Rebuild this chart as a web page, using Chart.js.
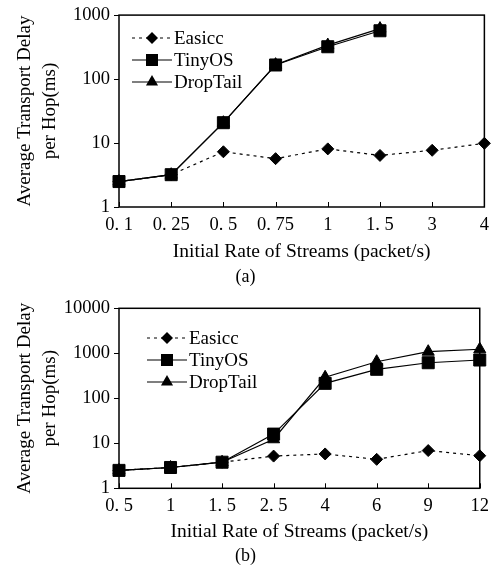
<!DOCTYPE html>
<html>
<head>
<meta charset="utf-8">
<script src="https://cdn.jsdelivr.net/npm/chart.js@4/dist/chart.umd.min.js"></script>
<style>
  body { margin: 0; background: #fff; }
  canvas { display: block; }
</style>
</head>
<body>
<canvas id="chartA" width="496" height="290"></canvas>
<canvas id="chartB" width="496" height="282"></canvas>
<script>
const seriesNames = ["Easicc", "TinyOS", "DropTail"];

const rateLabelsA = ["0. 1", "0. 25", "0. 5", "0. 75", "1", "1. 5", "3", "4"];
const easiccA = [2.5, 3.2, 7.3, 5.7, 8.1, 6.4, 7.7, 9.9];
const tinyosA = [2.5, 3.2, 20.8, 166, 320, 569, null, null];
const droptailA = [2.5, 3.2, 20.8, 168, 340, 615, null, null];
const yTicksA = [1, 10, 100, 1000];

const rateLabelsB = ["0. 5", "1", "1. 5", "2. 5", "4", "6", "9", "12"];
const easiccB = [2.5, 2.9, 3.8, 5.2, 5.8, 4.4, 6.9, 5.3];
const tinyosB = [2.5, 2.9, 3.8, 16, 215, 441, 617, 710];
const droptailB = [2.5, 2.9, 3.8, 12.3, 293, 650, 1086, 1230];
const yTicksB = [1, 10, 100, 1000, 10000];

const serif = "'Liberation Serif', 'Times New Roman', serif";
Chart.defaults.color = "#000";
Chart.defaults.font.family = serif;

// frame around the plot and small inward ticks on the x axis
const framePlugin = {
    id: "frame",
    beforeDatasetsDraw(chart) {
        const { ctx, chartArea: a } = chart;
        const x = chart.scales.x;
        ctx.save();
        ctx.strokeStyle = "#000";
        ctx.lineWidth = 1.5;
        ctx.strokeRect(a.left, a.top, a.right - a.left, a.bottom - a.top);
        ctx.lineWidth = 1;
        x.ticks.forEach((t, i) => {
            const px = Math.round(x.getPixelForTick(i)) + 0.5;
            ctx.beginPath();
            ctx.moveTo(px, a.bottom);
            ctx.lineTo(px, a.bottom - 5);
            ctx.stroke();
        });
        ctx.restore();
    },
};

function drawMarker(ctx, style, x, y) {
    ctx.beginPath();
    if (style === "rectRot") {
        const r = 6;
        ctx.moveTo(x, y - r); ctx.lineTo(x + r, y); ctx.lineTo(x, y + r); ctx.lineTo(x - r, y);
    } else if (style === "rect") {
        ctx.rect(x - 6, y - 6, 12, 12);
    } else {
        const r = 7;
        ctx.moveTo(x, y - r);
        ctx.lineTo(x + r * 0.866, y + r / 2);
        ctx.lineTo(x - r * 0.866, y + r / 2);
    }
    ctx.closePath();
    ctx.fill();
}

const legendPlugin = {
    id: "boxLegend",
    afterDraw(chart, args, opts) {
        const ctx = chart.ctx;
        ctx.save();
        ctx.fillStyle = "#000";
        ctx.strokeStyle = "#000";
        ctx.font = "19px " + serif;
        ctx.textBaseline = "middle";
        chart.data.datasets.forEach((ds, i) => {
            const y = opts.y + i * 22;
            ctx.lineWidth = 1.2;
            ctx.setLineDash(ds.borderDash || []);
            ctx.beginPath();
            ctx.moveTo(opts.x, y);
            ctx.lineTo(opts.x + 40, y);
            ctx.stroke();
            ctx.setLineDash([]);
            drawMarker(ctx, ds.pointStyle, opts.x + 20, y);
            ctx.fillText(ds.label, opts.x + 42, y + 1);
        });
        ctx.restore();
    },
};

function makeChart(id, labels, easicc, tinyos, droptail, yTicks, caption, sizes) {
    const ctx = document.getElementById(id).getContext("2d");
    const common = {
        borderColor: "#000",
        backgroundColor: "#000",
        borderWidth: 1.2,
        pointBorderWidth: 1,
        tension: 0,
        fill: false,
    };
    return new Chart(ctx, {
        type: "line",
        data: {
            labels: labels,
            datasets: [
                Object.assign({}, common, {
                    label: seriesNames[0],
                    data: easicc,
                    borderDash: [3, 4],
                    pointStyle: "rectRot",
                    pointRadius: 6,
                    order: 3,
                }),
                Object.assign({}, common, {
                    label: seriesNames[1],
                    data: tinyos,
                    pointStyle: "rect",
                    pointRadius: 8.5,
                    order: 1,
                }),
                Object.assign({}, common, {
                    label: seriesNames[2],
                    data: droptail,
                    pointStyle: "triangle",
                    pointRadius: 7,
                    order: 2,
                }),
            ],
        },
        options: {
            responsive: false,
            animation: false,
            layout: {
                padding: { top: sizes.top, right: sizes.right, bottom: sizes.bottom, left: 0 },
            },
            plugins: {
                legend: { display: false },
                tooltip: { enabled: false },
                title: {
                    display: true,
                    position: "bottom",
                    text: caption,
                    font: { size: 18, weight: "normal", lineHeight: 1.2 },
                    padding: 0,
                },
                boxLegend: { x: sizes.legendX, y: sizes.legendY },
            },
            scales: {
                x: {
                    offset: false,
                    grid: { display: false, drawTicks: false },
                    border: { display: false },
                    ticks: { font: { size: 18.5 }, padding: 7, maxRotation: 0, autoSkip: false },
                    title: {
                        display: true,
                        text: "Initial Rate of Streams (packet/s)",
                        font: { size: 19.5, lineHeight: 1.2 },
                        padding: { top: 0, bottom: sizes.xTitlePad },
                    },
                    afterFit: (s) => { s.height = sizes.xHeight; },
                },
                y: {
                    type: "logarithmic",
                    min: yTicks[0],
                    max: yTicks[yTicks.length - 1],
                    grid: { drawOnChartArea: false, drawTicks: true, tickLength: 5, color: "#000" },
                    border: { display: false },
                    ticks: { font: { size: 18.5 }, padding: 4, callback: (v) => String(v) },
                    afterBuildTicks: (s) => { s.ticks = yTicks.map((v) => ({ value: v })); },
                    title: {
                        display: true,
                        text: ["Average Transport Delay", "per Hop(ms)"],
                        font: { size: 19, lineHeight: 1.316 },
                        padding: { top: 12.5, bottom: 0 },
                    },
                    afterFit: (s) => { s.width = 119; },
                },
            },
        },
        plugins: [framePlugin, legendPlugin],
    });
}

makeChart("chartA", rateLabelsA, easiccA, tinyosA, droptailA, yTicksA, "(a)",
    { top: 15, right: 5, bottom: 2.2, xHeight: 59.2, xTitlePad: 2.5, legendX: 132, legendY: 38 });
makeChart("chartB", rateLabelsB, easiccB, tinyosB, droptailB, yTicksB, "(b)",
    { top: 18.3, right: 5, bottom: 5.2, xHeight: 56.9, xTitlePad: 1.8, legendX: 147, legendY: 48 });
</script>
</body>
</html>
